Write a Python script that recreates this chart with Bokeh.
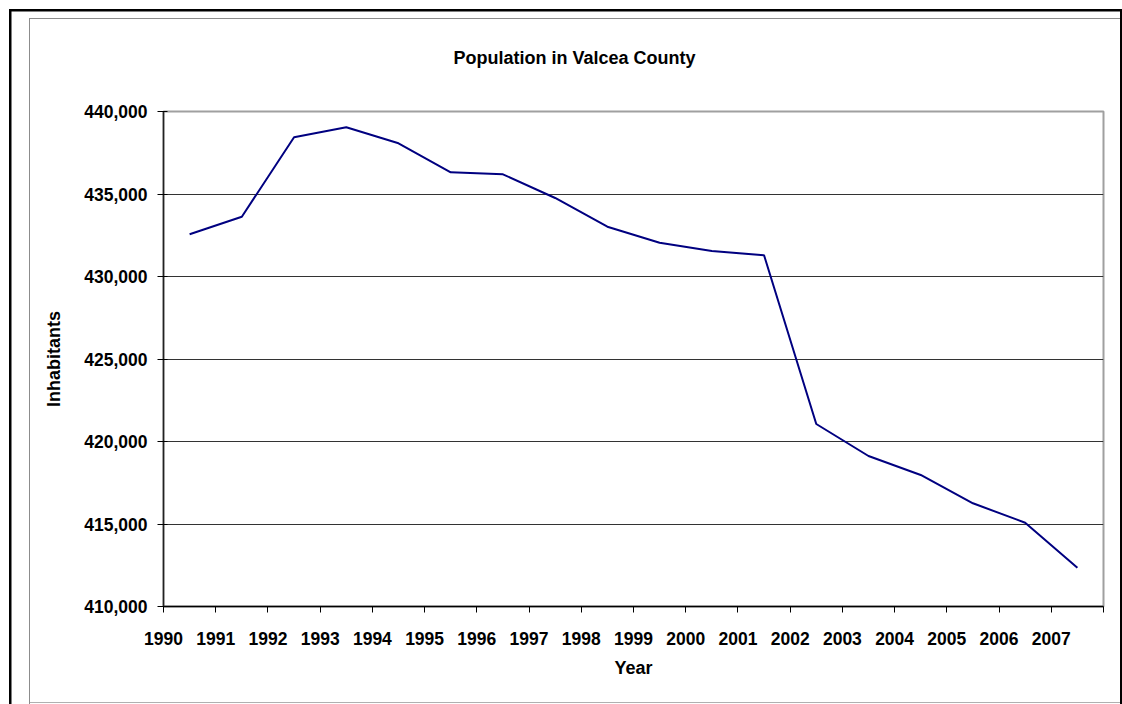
from bokeh.plotting import figure
from bokeh.models import ColumnDataSource, FixedTicker, NumeralTickFormatter, Range1d
from bokeh.embed import file_html
from bokeh.resources import INLINE

# ---- data ----
years = ["1990", "1991", "1992", "1993", "1994", "1995", "1996", "1997", "1998",
         "1999", "2000", "2001", "2002", "2003", "2004", "2005", "2006", "2007"]
population = [432558, 433624, 438436, 439042, 438073, 436315, 436194, 434758, 433018,
              432048, 431545, 431285, 421061, 419121, 417970, 416255, 415079, 412352]
y_ticks = [410000, 415000, 420000, 425000, 430000, 435000, 440000]
title_text = "Population in Valcea County"
x_title = "Year"
y_title = "Inhabitants"

FONT = "Liberation Sans"

# each year occupies one category slot; the point sits at the slot centre
xs = [i + 0.5 for i in range(len(years))]
src = ColumnDataSource(dict(x=xs, y=population, year=years))

W, H = 1122, 704
ML, MR, MT, MB = 163, 19, 111, 98

p = figure(width=W, height=H, output_backend="svg", toolbar_location=None,
           x_range=Range1d(0, len(years)), y_range=Range1d(y_ticks[0], y_ticks[-1]),
           min_border_left=ML, min_border_right=MR, min_border_top=MT,
           min_border_bottom=MB, background_fill_color="white",
           border_fill_alpha=0)

p.line("x", "y", source=src, line_color="#000080", line_width=2)

# chart-area frames drawn as CSS background layers behind the transparent canvas
def bar(color, x, y, w, h):
    return f"linear-gradient({color},{color}) {x}px {y}px / {w}px {h}px no-repeat"

layers = [
    bar("#000000", 9, 9, 2.5, 700),      # outer left
    bar("#000000", 9, 9, 1113, 2.5),     # outer top
    bar("#000000", 1119.5, 9, 2.5, 700), # outer right
    bar("#8c8c8c", 28.5, 17.5, 1, 686),  # inner left
    bar("#8c8c8c", 28.5, 17.5, 1092, 1), # inner top
    bar("#b0b0b0", 28.5, 702, 1092, 1),  # inner bottom
]
p.styles = {"background": ", ".join(layers) + ", #ffffff"}

# title
p.title.text = title_text
p.title.align = "left"
p.title.offset = 290
p.title.standoff = 88
p.title.text_font = FONT
p.title.text_font_style = "bold"
p.title.text_font_size = "18px"
p.title.text_color = "black"

# grid
p.xgrid.grid_line_color = None
p.ygrid.ticker = FixedTicker(ticks=y_ticks)
p.ygrid.grid_line_color = "#333333"
p.ygrid.grid_line_width = 1

# plot area outline
p.outline_line_color = "#a0a0a0"
p.outline_line_width = 2

# x axis
xa = p.xaxis[0]
xa.ticker = FixedTicker(ticks=list(range(len(years) + 1)))
overrides = {i: y for i, y in enumerate(years)}
overrides[len(years)] = ""
xa.major_label_overrides = overrides
xa.major_tick_in = 0
xa.major_tick_out = 6
xa.minor_tick_line_color = None
xa.axis_line_color = "black"
xa.axis_line_width = 1.5
xa.major_tick_line_color = "black"
xa.major_label_text_font = FONT
xa.major_label_text_font_style = "bold"
xa.major_label_text_font_size = "17.5px"
xa.major_label_text_color = "black"
xa.major_label_standoff = 19
xa.axis_label = x_title
xa.axis_label_text_font = FONT
xa.axis_label_text_font_style = "bold"
xa.axis_label_text_font_size = "18px"
xa.axis_label_text_color = "black"
xa.axis_label_standoff = 10

# y axis
ya = p.yaxis[0]
ya.ticker = FixedTicker(ticks=y_ticks)
ya.formatter = NumeralTickFormatter(format="0,0")
ya.major_tick_in = 4
ya.major_tick_out = 6
ya.minor_tick_line_color = None
ya.axis_line_color = "#222222"
ya.axis_line_width = 1.5
ya.major_tick_line_color = "black"
ya.major_label_text_font = FONT
ya.major_label_text_font_style = "bold"
ya.major_label_text_font_size = "17.5px"
ya.major_label_text_color = "black"
ya.major_label_standoff = 10
ya.axis_label = y_title
ya.axis_label_text_font = FONT
ya.axis_label_text_font_style = "bold"
ya.axis_label_text_font_size = "18px"
ya.axis_label_text_color = "black"
ya.axis_label_standoff = 17

open("out.html", "w").write(file_html(p, INLINE))
